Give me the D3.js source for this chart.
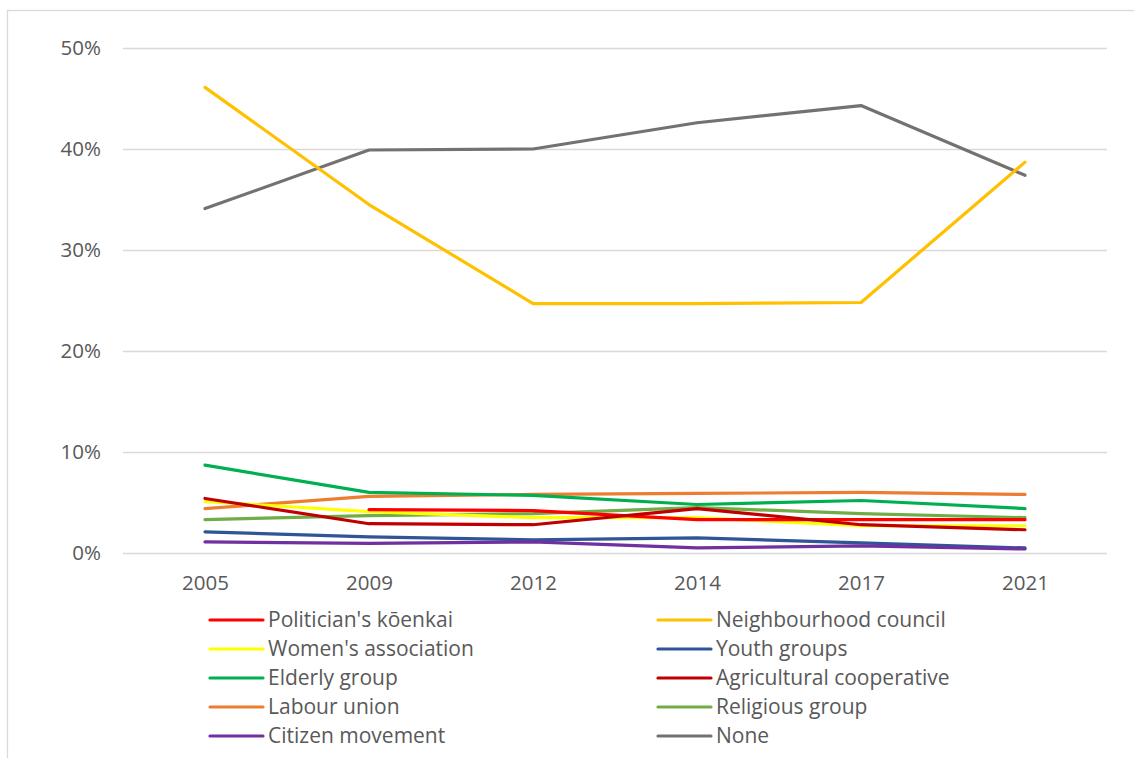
<!DOCTYPE html>
<html>
<head>
<meta charset="utf-8">
<script src="https://cdn.jsdelivr.net/npm/d3@7"></script>
<style>
  html, body { margin: 0; padding: 0; background: #fff; }
  svg { display: block; font-family: "Open Sans", sans-serif; }
</style>
</head>
<body>
<svg id="chart" width="1134" height="758"></svg>
<script>
// Survey years (x categories)
const years = ["2005", "2009", "2012", "2014", "2017", "2021"];

// Share of respondents (%) by group membership; null = not surveyed
const politiciansKoenkai     = [null, 4.3, 4.2, 3.3, 3.3, 3.3];
const neighbourhoodCouncil   = [46.1, 34.5, 24.7, 24.7, 24.8, 38.7];
const womensAssociation      = [5.1, 4.1, 3.5, 3.5, 2.7, 2.7];
const youthGroups            = [2.1, 1.6, 1.3, 1.5, 1.0, 0.5];
const elderlyGroup           = [8.7, 6.0, 5.7, 4.8, 5.2, 4.4];
const agriculturalCoop       = [5.4, 2.9, 2.8, 4.4, 2.8, 2.3];
const labourUnion            = [4.4, 5.6, 5.8, 5.9, 6.0, 5.8];
const religiousGroup         = [3.3, 3.7, 3.9, 4.5, 3.9, 3.5];
const citizenMovement        = [1.1, 0.95, 1.1, 0.5, 0.7, 0.4];
const noneOfThese            = [34.1, 39.9, 40.0, 42.6, 44.3, 37.4];

// Y-axis ticks
const yTicks = [0, 10, 20, 30, 40, 50];

const series = [
  { name: "Politician's kōenkai",   values: politiciansKoenkai,   color: "#ff0000" },
  { name: "Neighbourhood council",  values: neighbourhoodCouncil, color: "#ffc000" },
  { name: "Women's association",    values: womensAssociation,    color: "#ffff00" },
  { name: "Youth groups",           values: youthGroups,          color: "#2f5597" },
  { name: "Elderly group",          values: elderlyGroup,         color: "#00b050" },
  { name: "Agricultural cooperative", values: agriculturalCoop,   color: "#c00000" },
  { name: "Labour union",           values: labourUnion,          color: "#ed7d31" },
  { name: "Religious group",        values: religiousGroup,       color: "#70ad47" },
  { name: "Citizen movement",       values: citizenMovement,      color: "#7030a0" },
  { name: "None",                   values: noneOfThese,          color: "#767171" }
];

// Draw order: later series on top
const drawOrder = ["Religious group", "Labour union", "Elderly group", "Women's association",
  "Politician's kōenkai", "Agricultural cooperative", "Youth groups", "Citizen movement",
  "None", "Neighbourhood council"];

const svg = d3.select("#chart");
const textColor = "#595959";
const gridColor = "#d9d9d9";
const fontFamily = "'Open Sans', sans-serif";

// Outer chart frame
svg.append("rect")
  .attr("x", 7.5).attr("y", 10.5)
  .attr("width", 1140).attr("height", 760)
  .attr("fill", "none").attr("stroke", gridColor).attr("stroke-width", 1.3);

const plot = { left: 123, right: 1107, top: 48, bottom: 553 };

const x = d3.scalePoint()
  .domain(years)
  .range([plot.left, plot.right])
  .padding(0.5);

const y = d3.scaleLinear()
  .domain([0, 50])
  .range([plot.bottom, plot.top]);

// Horizontal gridlines + y tick labels
const yAxis = d3.axisLeft(y)
  .tickValues(yTicks)
  .tickSize(-(plot.right - plot.left))
  .tickPadding(22)
  .tickFormat(d => d + "%");

const gy = svg.append("g")
  .attr("transform", `translate(${plot.left},0)`)
  .call(yAxis);
gy.select(".domain").remove();
gy.selectAll(".tick line").attr("stroke", gridColor).attr("stroke-width", 1.3);
gy.selectAll(".tick text")
  .attr("fill", textColor)
  .style("font-size", "20.5px")
  .style("font-family", fontFamily);

// X axis labels
const xAxis = d3.axisBottom(x).tickSize(0).tickPadding(22);
const gx = svg.append("g")
  .attr("transform", `translate(0,${plot.bottom})`)
  .call(xAxis);
gx.select(".domain").remove();
gx.selectAll(".tick text")
  .attr("fill", textColor)
  .style("font-size", "20.5px")
  .style("font-family", fontFamily);

// Lines
const line = d3.line()
  .defined(d => d.v !== null)
  .x(d => x(d.year))
  .y(d => y(d.v));

const lineGroup = svg.append("g");
drawOrder.forEach(name => {
  const s = series.find(e => e.name === name);
  lineGroup.append("path")
    .datum(years.map((yr, i) => ({ year: yr, v: s.values[i] })))
    .attr("d", line)
    .attr("fill", "none")
    .attr("stroke", s.color)
    .attr("stroke-width", 3.2)
    .attr("stroke-linejoin", "round")
    .attr("stroke-linecap", "round");
});

// Legend: two columns, filled row by row
const legend = svg.append("g");
const legendCols = [210, 658];
const legendTop = 620;
const legendRowH = 29;
series.forEach((s, i) => {
  const col = i % 2, row = Math.floor(i / 2);
  const gx0 = legendCols[col], gy0 = legendTop + row * legendRowH;
  const item = legend.append("g").attr("transform", `translate(${gx0},${gy0})`);
  item.append("line")
    .attr("x1", 0).attr("x2", 53).attr("y1", 0).attr("y2", 0)
    .attr("stroke", s.color).attr("stroke-width", 3.2)
    .attr("stroke-linecap", "round");
  item.append("text")
    .attr("x", 58).attr("y", 0).attr("dy", "0.35em")
    .attr("fill", textColor)
    .style("font-size", "21px")
    .style("font-family", fontFamily)
    .text(s.name);
});
</script>
</body>
</html>
